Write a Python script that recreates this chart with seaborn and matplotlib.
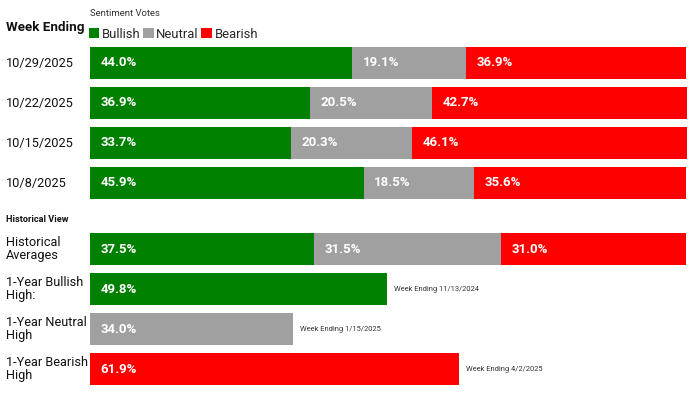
import numpy as np
import pandas as pd
import matplotlib
matplotlib.use("Agg")
import matplotlib.pyplot as plt
import seaborn as sns
from matplotlib.patches import Patch

# data
weeks = ["10/29/2025", "10/22/2025", "10/15/2025", "10/8/2025"]
bullish = [44.0, 36.9, 33.7, 45.9]
neutral = [19.1, 20.5, 20.3, 18.5]
bearish = [36.9, 42.7, 46.1, 35.6]

hist_label = "Historical\nAverages"
hist_avg = [37.5, 31.5, 31.0]  # bullish, neutral, bearish

high_labels = ["1-Year Bullish\nHigh:", "1-Year Neutral\nHigh", "1-Year Bearish\nHigh"]
high_kinds = ["Bullish", "Neutral", "Bearish"]
high_values = [49.8, 34.0, 61.9]
high_dates = ["Week Ending 11/13/2024", "Week Ending 1/15/2025", "Week Ending 4/2/2025"]

kinds = ["Bullish", "Neutral", "Bearish"]
colors = {"Bullish": "#008000", "Neutral": "#a0a0a0", "Bearish": "#ff0000"}

sns.set_theme(style="white")
plt.rcParams["font.family"] = ["Roboto", "DejaVu Sans"]

# row positions (gap before the historical block)
week_pos = list(range(len(weeks)))
hist_pos = 4.66
high_pos = [hist_pos + 1 + i for i in range(len(high_values))]

# build segments: start / end for each stacked piece
rows = []
for p, b, n, r in zip(week_pos, bullish, neutral, bearish):
    start = 0
    for k, v in zip(kinds, [b, n, r]):
        rows.append(dict(pos=p, kind=k, start=start, end=start + v, value=v))
        start += v
start = 0
for k, v in zip(kinds, hist_avg):
    rows.append(dict(pos=hist_pos, kind=k, start=start, end=start + v, value=v))
    start += v
for p, k, v in zip(high_pos, high_kinds, high_values):
    rows.append(dict(pos=p, kind=k, start=0, end=v, value=v))
seg = pd.DataFrame(rows)

fig = plt.figure(figsize=(6.9, 3.99), dpi=100)
ax = fig.add_axes([0, 0, 1, 1])

# draw the layers from the back (cumulative end) so they stack
for k in ["Bearish", "Neutral", "Bullish"]:
    sub = seg[seg["kind"] == k]
    sns.barplot(data=sub, x="end", y="pos", orient="h", native_scale=True,
                color=colors[k], saturation=1, width=0.8, errorbar=None,
                linewidth=0, ax=ax)

for _, s in seg.iterrows():
    ax.text(s["start"] + 1.8, s["pos"], f"{s['value']:.1f}%", color="white",
            fontsize=9.5, fontweight="bold", va="center", ha="left")

# row labels
lab_size = 9.2
for p, w in zip(week_pos, weeks):
    ax.text(-14.1, p, w, fontsize=lab_size, va="center", ha="left", color="#111111")
ax.text(-14.1, hist_pos, hist_label, fontsize=lab_size, va="center", ha="left",
        color="#111111", linespacing=1.0)
for p, lab, v, d in zip(high_pos, high_labels, high_values, high_dates):
    ax.text(-14.1, p, lab, fontsize=lab_size, va="center", ha="left",
            color="#111111", linespacing=1.0)
    ax.text(v + 1.2, p, d, fontsize=5.4, va="center", ha="left", color="#333333")

ax.set_xlim(-15.1, 100.67)
ax.set_ylim(8.4, -1.575)
ax.axis("off")

fig.text(6 / 690, 1 - 28 / 399, "Week Ending", fontsize=9.6, fontweight="bold",
         va="center", ha="left", color="#111111")
fig.text(90 / 690, 1 - 13 / 399, "Sentiment Votes", fontsize=6.8,
         va="center", ha="left", color="#333333")
fig.text(6 / 690, 1 - 220 / 399, "Historical View", fontsize=6.6, fontweight="bold",
         va="center", ha="left", color="#111111")

handles = [Patch(facecolor=colors[k], edgecolor="none", label=k) for k in kinds]
fig.legend(handles=handles, loc="center left", bbox_to_anchor=(89 / 690, 1 - 34 / 399),
           ncol=3, frameon=False, fontsize=9.4, handlelength=0.8, handleheight=0.8,
           handletextpad=0.2, columnspacing=0.2, borderpad=0, borderaxespad=0)

fig.savefig("out.png", dpi=100)
